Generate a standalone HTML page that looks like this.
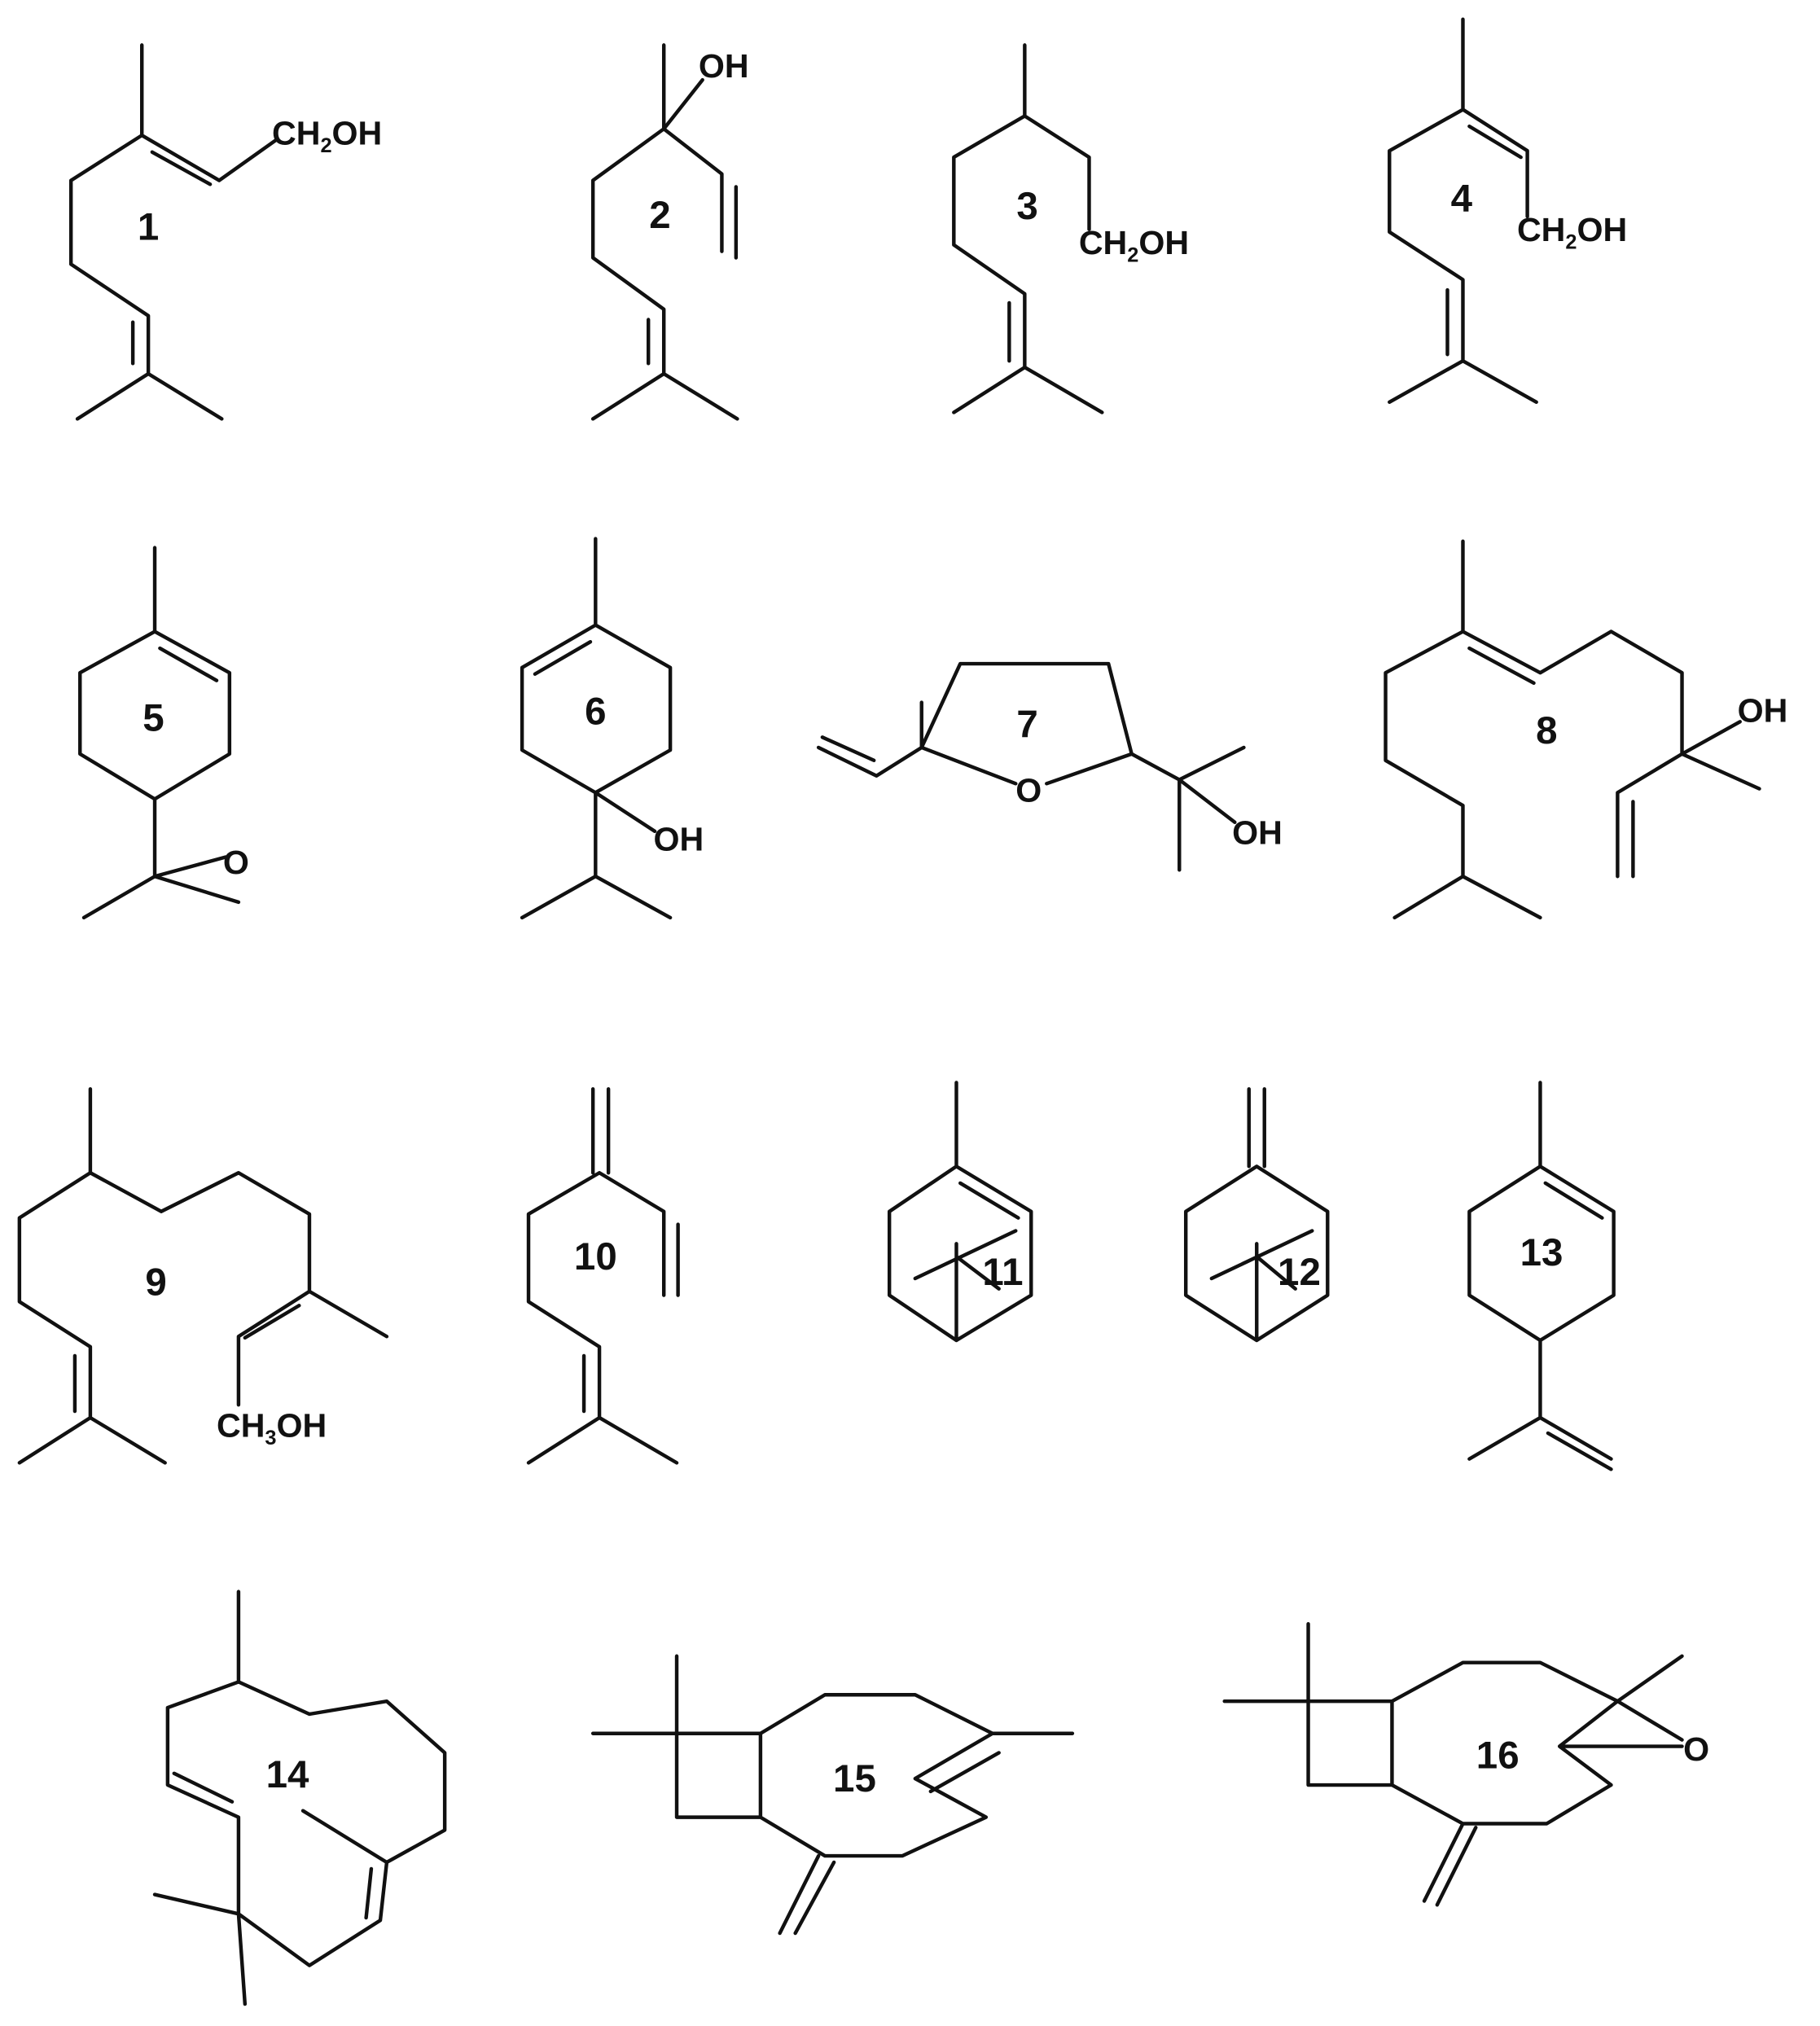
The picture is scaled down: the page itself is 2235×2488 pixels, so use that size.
<!DOCTYPE html>
<html><head><meta charset="utf-8"><style>
html,body{margin:0;padding:0;background:#fff;}
svg{display:block}
text{font-family:"Liberation Sans",Arial,sans-serif;font-weight:bold;fill:#111;}
</style></head><body>
<svg width="2235" height="2488" viewBox="0 0 1412 1572" xmlns="http://www.w3.org/2000/svg">
<g stroke="#111" stroke-width="2.8" fill="none" stroke-linejoin="round" stroke-linecap="round">
<!-- 1 -->
<path d="M110,35 L110,105 L55,140 L55,205 L115,245 L115,290 M115,290 L60,325 M115,290 L172,325 M110,105 L170,140 L215,108"/>
<path d="M103,250 L103,282 M118,118 L163,143"/>
<!-- 2 -->
<path d="M515,35 L515,100 L460,140 L460,200 L515,240 L515,290 M515,290 L460,325 M515,290 L572,325 M515,100 L545,62 M515,100 L560,135 L560,195"/>
<path d="M503,248 L503,282 M571,145 L571,200"/>
<!-- 3 -->
<path d="M795,35 L795,90 L740,122 L740,190 L795,228 L795,285 M795,285 L740,320 M795,285 L855,320 M795,90 L845,122 L845,178"/>
<path d="M783,235 L783,280"/>
<!-- 4 -->
<path d="M1135,15 L1135,85 L1078,117 L1078,180 L1135,217 L1135,280 M1135,280 L1078,312 M1135,280 L1192,312 M1135,85 L1185,117 L1185,168"/>
<path d="M1123,225 L1123,275 M1140,98 L1180,122"/>
<!-- 5 -->
<path d="M120,425 L120,490 M120,490 L178,522 L178,585 L120,620 L62,585 L62,522 Z M120,620 L120,680 L65,712 M120,680 L185,700 M120,680 L175,665"/>
<path d="M124,503 L168,528"/>
<!-- 6 -->
<path d="M462,418 L462,485 M462,485 L520,518 L520,582 L462,615 L405,582 L405,518 Z M462,615 L508,645 M462,615 L462,680 L405,712 M462,680 L520,712"/>
<path d="M458,498 L415,523"/>
<!-- 7 -->
<path d="M745,515 L860,515 L878,585 L812,608 M788,608 L715,580 L745,515 M715,580 L680,602 L635,580 M715,580 L715,545 M878,585 L915,605 L965,580 M915,605 L915,675 M915,605 L958,638"/>
<path d="M678,590 L638,572"/>
<!-- 8 -->
<path d="M1135,420 L1135,490 L1075,522 L1075,590 L1135,625 L1135,680 L1082,712 M1135,680 L1195,712 M1135,490 L1195,522 L1250,490 L1305,522 L1305,585 L1350,560 M1305,585 L1365,612 M1305,585 L1255,615 L1255,680"/>
<path d="M1140,503 L1190,530 M1267,622 L1267,680"/>
<!-- 9 -->
<path d="M70,845 L70,910 L15,945 L15,1010 L70,1045 L70,1100 L15,1135 M70,1100 L128,1135 M70,910 L125,940 L185,910 L240,942 L240,1002 L300,1037 M240,1002 L185,1037 L185,1090"/>
<path d="M58,1052 L58,1095 M232,1013 L190,1038"/>
<!-- 10 -->
<path d="M460,845 L460,910 M472,845 L472,910 M465,910 L410,942 L410,1010 L465,1045 L465,1100 L410,1135 M465,1100 L525,1135 M465,910 L515,940 L515,1005"/>
<path d="M453,1052 L453,1095 M526,950 L526,1005"/>
<!-- 11 -->
<path d="M742,840 L742,905 M742,905 L800,940 L800,1005 L742,1040 L690,1005 L690,940 Z M710,992 L788,955 M742,965 L742,1040 M742,975 L775,1000"/>
<path d="M745,918 L790,945"/>
<!-- 12 -->
<path d="M969,845 L969,905 M981,845 L981,905 M975,905 L1030,940 L1030,1005 L975,1040 L920,1005 L920,940 Z M940,992 L1018,955 M975,965 L975,1040 M975,975 L1005,1000"/>
<!-- 13 -->
<path d="M1195,840 L1195,905 M1195,905 L1252,940 L1252,1005 L1195,1040 L1140,1005 L1140,940 Z M1195,1040 L1195,1100 L1140,1132 M1195,1100 L1250,1132"/>
<path d="M1199,918 L1243,945 M1201,1112 L1250,1140"/>
<!-- 14 -->
<path d="M185,1235 L185,1305 L240,1330 L300,1320 L345,1360 L345,1420 L300,1445 L235,1405 M300,1445 L295,1490 L240,1525 L185,1485 L120,1470 M185,1485 L190,1555 M185,1485 L185,1410 L130,1385 L130,1325 L185,1305"/>
<path d="M288,1450 L284,1488 M180,1398 L135,1376"/>
<!-- 15 -->
<path d="M525,1285 L525,1410 M460,1345 L590,1345 L590,1410 L525,1410 M590,1345 L640,1315 L710,1315 L770,1345 L832,1345 M770,1345 L710,1380 L765,1410 L700,1440 L640,1440 L590,1410 M635,1440 L605,1500"/>
<path d="M775,1360 L722,1390 M647,1445 L617,1500"/>
<!-- 16 -->
<path d="M1015,1260 L1015,1385 L1080,1385 M950,1320 L1080,1320 L1080,1385 M1080,1320 L1135,1290 L1195,1290 L1255,1320 L1305,1285 M1255,1320 L1305,1350 M1210,1355 L1305,1355 M1255,1320 L1210,1355 L1250,1385 L1200,1415 L1135,1415 L1080,1385 M1135,1415 L1105,1475 M1145,1418 L1115,1478"/>
</g>
<g font-size="26">
<text x="211" y="112">CH<tspan font-size="16" dy="6">2</tspan><tspan dy="-6">OH</tspan></text>
<text x="542" y="60">OH</text>
<text x="837" y="197">CH<tspan font-size="16" dy="6">2</tspan><tspan dy="-6">OH</tspan></text>
<text x="1177" y="187">CH<tspan font-size="16" dy="6">2</tspan><tspan dy="-6">OH</tspan></text>
<text x="173" y="678">O</text>
<text x="507" y="660">OH</text>
<text x="788" y="622">O</text>
<text x="956" y="655">OH</text>
<text x="1348" y="560">OH</text>
<text x="168" y="1115">CH<tspan font-size="16" dy="6">3</tspan><tspan dy="-6">OH</tspan></text>
<text x="1306" y="1366">O</text>
</g>
<g font-size="30" font-weight="normal" text-anchor="middle">
<text x="115" y="186">1</text>
<text x="512" y="177">2</text>
<text x="797" y="170">3</text>
<text x="1134" y="164">4</text>
<text x="119" y="567">5</text>
<text x="462" y="562">6</text>
<text x="797" y="572">7</text>
<text x="1200" y="577">8</text>
<text x="121" y="1005">9</text>
<text x="462" y="985">10</text>
<text x="778" y="997">11</text>
<text x="1008" y="997">12</text>
<text x="1196" y="982">13</text>
<text x="223" y="1387">14</text>
<text x="663" y="1390">15</text>
<text x="1162" y="1372">16</text>
</g>
</svg>
</body></html>
